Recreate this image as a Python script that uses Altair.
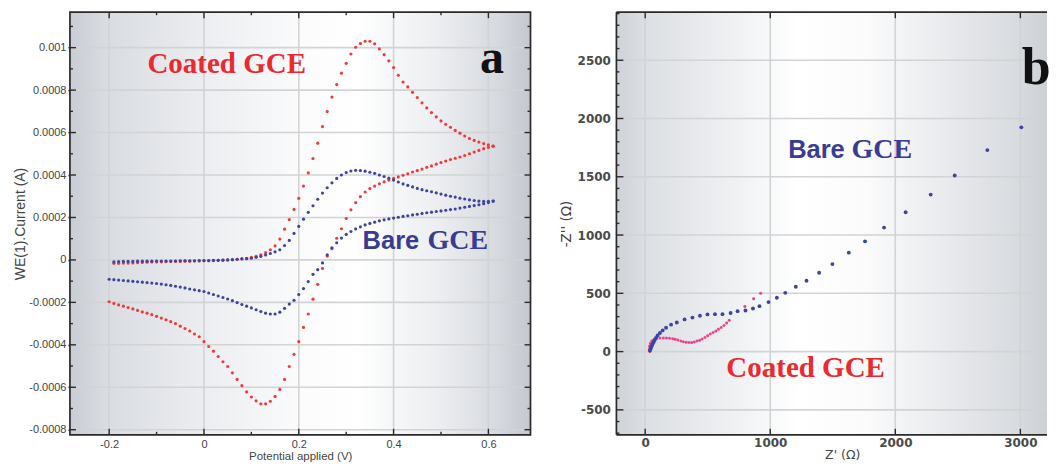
import altair as alt
import pandas as pd

# ---------------- Panel a : cyclic voltammetry ----------------
sweep_up_v = [-0.19, -0.18, -0.17, -0.16, -0.15, -0.14, -0.13, -0.12, -0.11, -0.10,
              -0.09, -0.08, -0.07, -0.06, -0.05, -0.04, -0.03, -0.02, -0.01, 0.00,
              0.01, 0.02, 0.03, 0.04, 0.05, 0.06, 0.07, 0.08, 0.09, 0.10,
              0.11, 0.12, 0.13, 0.14, 0.15, 0.16, 0.17, 0.18, 0.19, 0.20,
              0.21, 0.22, 0.23, 0.24, 0.25, 0.26, 0.27, 0.28, 0.29, 0.30,
              0.31, 0.32, 0.33, 0.34, 0.35, 0.36, 0.37, 0.38, 0.39, 0.40,
              0.41, 0.42, 0.43, 0.44, 0.45, 0.46, 0.47, 0.48, 0.49, 0.50,
              0.51, 0.52, 0.53, 0.54, 0.55, 0.56, 0.57, 0.58, 0.59, 0.60, 0.61]
sweep_down_v = [0.61, 0.60, 0.59, 0.58, 0.57, 0.56, 0.55, 0.54, 0.53, 0.52,
                0.51, 0.50, 0.49, 0.48, 0.47, 0.46, 0.45, 0.44, 0.43, 0.42,
                0.41, 0.40, 0.39, 0.38, 0.37, 0.36, 0.35, 0.34, 0.33, 0.32,
                0.31, 0.30, 0.29, 0.28, 0.27, 0.26, 0.25, 0.24, 0.23, 0.22,
                0.21, 0.20, 0.19, 0.18, 0.17, 0.16, 0.15, 0.14, 0.13, 0.12,
                0.11, 0.10, 0.09, 0.08, 0.07, 0.06, 0.05, 0.04, 0.03, 0.02,
                0.01, 0.00, -0.01, -0.02, -0.03, -0.04, -0.05, -0.06, -0.07, -0.08,
                -0.09, -0.10, -0.11, -0.12, -0.13, -0.14, -0.15, -0.16, -0.17, -0.18,
                -0.19, -0.20]

coated_up_i = [-0.000016, -0.000016, -0.000015, -0.000015, -0.000014, -0.000013, -0.000012, -0.000011, -0.00001, -0.00001,
               -0.000009, -0.000008, -0.000008, -0.000007, -0.000007, -0.000006, -0.000006, -0.000005, -0.000005, -0.000004,
               -0.000004, -0.000003, -0.000002, -0.000001, 0.0, 0.000001, 0.000003, 0.000005, 0.000008, 0.000012,
               0.000017, 0.000024, 0.000034, 0.000048, 0.000066, 0.000098, 0.000145, 0.00019, 0.000238, 0.00029,
               0.000348, 0.00041, 0.000478, 0.00055, 0.000628, 0.000699, 0.000767, 0.000826, 0.00088, 0.000926,
               0.00097, 0.001002, 0.00102, 0.00103, 0.00103, 0.001018, 0.000994, 0.000967, 0.000938, 0.000906,
               0.00087, 0.000838, 0.000815, 0.00079, 0.000765, 0.00074, 0.000716, 0.000694, 0.000674, 0.000655,
               0.000639, 0.000625, 0.00061, 0.000597, 0.000584, 0.000572, 0.000563, 0.000555, 0.000548, 0.000542, 0.000536]
coated_down_i = [0.000536, 0.00053, 0.000524, 0.000516, 0.000508, 0.0005, 0.000492, 0.000485, 0.000479, 0.000473,
                 0.000466, 0.000459, 0.000451, 0.000443, 0.000436, 0.000428, 0.000421, 0.000414, 0.000406, 0.000399,
                 0.000391, 0.000384, 0.000376, 0.000368, 0.000359, 0.000348, 0.000336, 0.00032, 0.000298, 0.00027,
                 0.000236, 0.000195, 0.000147, 0.000102, 0.000053, 0.000018, -0.00004, -0.000115, -0.000185, -0.000255,
                 -0.000318, -0.000385, -0.000445, -0.000502, -0.000563, -0.00061, -0.000643, -0.000666, -0.000678, -0.000678,
                 -0.000664, -0.000646, -0.000622, -0.000592, -0.000563, -0.000532, -0.000502, -0.00048, -0.000455, -0.00043,
                 -0.000408, -0.000385, -0.000362, -0.000349, -0.000335, -0.000323, -0.000312, -0.0003, -0.000291, -0.000282,
                 -0.000274, -0.000266, -0.000258, -0.000251, -0.000245, -0.000238, -0.000231, -0.000224, -0.000218, -0.000212,
                 -0.000205, -0.000197]
bare_up_i = [-0.000009, -0.000008, -0.000007, -0.000007, -0.000007, -0.000006, -0.000006, -0.000006, -0.000006, -0.000005,
             -0.000005, -0.000005, -0.000005, -0.000005, -0.000004, -0.000004, -0.000004, -0.000004, -0.000003, -0.000003,
             -0.000003, -0.000002, -0.000002, -0.000001, 0.0, 0.000001, 0.000003, 0.000005, 0.000006, 0.000008,
             0.000012, 0.000017, 0.000023, 0.00003, 0.000038, 0.000048, 0.000068, 0.000092, 0.000125, 0.000158,
             0.000192, 0.000224, 0.000255, 0.000286, 0.000315, 0.00034, 0.000363, 0.000384, 0.0004, 0.000412,
             0.000419, 0.000422, 0.000421, 0.000418, 0.000413, 0.000408, 0.0004, 0.000393, 0.000385, 0.000376,
             0.000367, 0.000358, 0.000351, 0.000344, 0.000337, 0.000331, 0.000326, 0.000321, 0.000316, 0.00031,
             0.000305, 0.0003, 0.000296, 0.000291, 0.000287, 0.000283, 0.00028, 0.000277, 0.000276, 0.000276, 0.000277]
bare_down_i = [0.000277, 0.00027, 0.000265, 0.00026, 0.000256, 0.000252, 0.000248, 0.000244, 0.00024, 0.000237,
               0.000234, 0.000231, 0.000228, 0.000225, 0.000222, 0.000219, 0.000215, 0.000212, 0.000208, 0.000205,
               0.000201, 0.000197, 0.000193, 0.000189, 0.000184, 0.000178, 0.000172, 0.000165, 0.000156, 0.000146,
               0.000134, 0.00012, 0.000103, 0.000081, 0.000057, 0.000024, -0.000014, -0.000046, -0.000068, -0.000102,
               -0.000135, -0.000163, -0.00019, -0.000208, -0.000228, -0.000246, -0.000255, -0.000255, -0.000251, -0.000243,
               -0.000235, -0.000226, -0.000218, -0.00021, -0.000201, -0.000192, -0.000184, -0.000177, -0.00017, -0.000163,
               -0.000156, -0.000149, -0.000145, -0.000141, -0.000137, -0.000132, -0.000128, -0.000124, -0.00012, -0.000117,
               -0.000114, -0.000111, -0.000109, -0.000107, -0.000105, -0.000103, -0.000101, -0.000099, -0.000097, -0.000095,
               -0.000093, -0.000091]

cv_x_ticks = [-0.2, 0, 0.2, 0.4, 0.6]
cv_x_minor = [-0.1, 0.1, 0.3, 0.5]
cv_y_ticks = [-0.0008, -0.0006, -0.0004, -0.0002, 0, 0.0002, 0.0004, 0.0006, 0.0008, 0.001]
cv_y_minor = [-0.0007, -0.0005, -0.0003, -0.0001, 0.0001, 0.0003, 0.0005, 0.0007, 0.0009, 0.0011]

# ---------------- Panel b : Nyquist plot ----------------
bare_zre = [38, 43, 48, 54, 59, 67, 75, 86, 99, 118, 140, 167, 207, 253, 315, 378, 438, 498, 558, 618,
            683, 739, 802, 862, 914, 986, 1053, 1120, 1204, 1290, 1391, 1497, 1628, 1758, 1910, 2083,
            2283, 2475, 2736, 3008, 3296]
bare_zim = [9, 23, 38, 52, 66, 81, 98, 118, 139, 160, 182, 205, 231, 250, 276, 292, 308, 319, 321, 321,
            331, 347, 353, 370, 390, 425, 462, 504, 556, 608, 677, 751, 849, 946, 1064, 1196,
            1347, 1511, 1729, 1924, 2193]
coated_zre = [38, 35, 35, 42, 52, 70, 92, 118, 145, 170, 195, 220, 240, 262, 285, 305, 328, 350, 372,
              393, 414, 435, 455, 478, 500, 521, 543, 565, 586, 608, 630, 651, 672, 797, 867, 923]
coated_zim = [0, 20, 45, 70, 90, 104, 112, 116, 116, 116, 115, 111, 106, 99, 91, 85, 80, 78, 79,
              83, 90, 98, 108, 121, 136, 150, 163, 177, 191, 206, 224, 245, 269, 386, 453, 500]

eis_x_ticks = [0, 1000, 2000, 3000]
eis_y_ticks = [-500, 0, 500, 1000, 1500, 2000, 2500]
eis_y_minor = [-700, -600, -400, -300, -200, -100, 100, 200, 300, 400, 600, 700, 800, 900,
               1100, 1200, 1300, 1400, 1600, 1700, 1800, 1900, 2100, 2200, 2300, 2400, 2600, 2700, 2800, 2900]

series_names = ["Coated GCE", "Bare GCE"]

# ---------------- styling ----------------
SANS = "Liberation Sans"
RED = "#f03a3a"
BLUE = "#3b459f"
PINK = "#e9438e"
TXT_RED = "#ea2a2e"
TXT_BLUE = "#383c92"
GRID = "#d2d3d5"
FRAME = "#2a2a2a"
H = 423
WL = 461
WR = 431

one = pd.DataFrame({"k": [0]})


def grad(stops):
    return alt.LinearGradient(gradient="linear", x1=0, x2=1, y1=0, y2=0,
                              stops=[alt.GradientStop(offset=o, color=c) for o, c in stops])


class Panel:
    def __init__(self, xs, ys, ax, ay, w):
        self.xs, self.ys, self.ax, self.ay, self.w = xs, ys, ax, ay, w

    def X(self, f):
        return alt.X(f, scale=self.xs, axis=self.ax)

    def Y(self, f):
        return alt.Y(f, scale=self.ys, axis=self.ay)

    def bg(self, stops):
        return alt.Chart(one).mark_rect(fill=grad(stops)).encode(
            x=alt.value(0), x2=alt.value(self.w), y=alt.value(0), y2=alt.value(H))

    def frame(self, open_right=False):
        if not open_right:
            return [alt.Chart(one).mark_rect(filled=False, stroke=FRAME, strokeWidth=1.7).encode(
                x=alt.value(0), x2=alt.value(self.w), y=alt.value(0), y2=alt.value(H))]
        return [
            alt.Chart(one).mark_rule(color=FRAME, strokeWidth=1.7).encode(
                x=alt.value(0), y=alt.value(0), y2=alt.value(H)),
            alt.Chart(one).mark_rule(color=FRAME, strokeWidth=1.7).encode(
                x=alt.value(0), x2=alt.value(self.w), y=alt.value(0)),
            alt.Chart(one).mark_rule(color=FRAME, strokeWidth=1.7).encode(
                x=alt.value(0), x2=alt.value(self.w), y=alt.value(H)),
        ]

    def vgrid(self, vals):
        return alt.Chart(pd.DataFrame({"g": vals})).mark_rule(color=GRID, strokeWidth=1.6).encode(
            x=self.X("g:Q"))

    def hgrid(self, vals):
        return alt.Chart(pd.DataFrame({"g": vals})).mark_rule(color=GRID, strokeWidth=1.6).encode(
            y=self.Y("g:Q"))

    def xticks(self, vals, ln):
        d = pd.DataFrame({"t": vals})
        bot = alt.Chart(d).mark_rule(color=FRAME, strokeWidth=1.4).encode(
            x=self.X("t:Q"), y=alt.value(H), y2=alt.value(H - ln))
        top = alt.Chart(d).mark_rule(color=FRAME, strokeWidth=1.4).encode(
            x=self.X("t:Q"), y=alt.value(0), y2=alt.value(ln))
        return [bot, top]

    def yticks(self, vals, ln, right=True):
        d = pd.DataFrame({"t": vals})
        out = [alt.Chart(d).mark_rule(color=FRAME, strokeWidth=1.4).encode(
            y=self.Y("t:Q"), x=alt.value(0), x2=alt.value(ln))]
        if right:
            out.append(alt.Chart(d).mark_rule(color=FRAME, strokeWidth=1.4).encode(
                y=self.Y("t:Q"), x=alt.value(self.w), x2=alt.value(self.w - ln)))
        return out

    def label(self, xv, yv, text, font, size, color, align="center", weight="bold"):
        return alt.Chart(pd.DataFrame({"x": [xv], "y": [yv], "t": [text]})).mark_text(
            font=font, fontSize=size, fontWeight=weight, color=color, align=align,
            baseline="alphabetic"
        ).encode(x=self.X("x:Q"), y=self.Y("y:Q"), text="t:N")


# ---------------- panel a ----------------
ax_xa = alt.Axis(values=cv_x_ticks, labelExpr="datum.value + ''", title="Potential applied (V)",
                 grid=False, ticks=False, domain=False, labelPadding=4, labelFont=SANS,
                 labelFontSize=11, labelColor="#444", titleFont=SANS, titleFontSize=11.5,
                 titleFontWeight="normal", titleColor="#444", titlePadding=1)
ax_ya = alt.Axis(values=cv_y_ticks, labelExpr="datum.value + ''", title="WE(1).Current (A)",
                 grid=False, ticks=True, tickSize=2, tickWidth=1.5, tickColor=FRAME, domain=False,
                 labelPadding=2, labelFont=SANS, labelFontSize=11, labelColor="#444",
                 titleFont=SANS, titleFontSize=14, titleFontWeight="normal", titleColor="#444",
                 titlePadding=1.5)
pa = Panel(alt.Scale(domain=[-0.2827, 0.6888], nice=False, zero=False),
           alt.Scale(domain=[-0.000824, 0.001167], nice=False, zero=False), ax_xa, ax_ya, WL)

cv = pd.DataFrame({
    "V": sweep_up_v + sweep_down_v + sweep_up_v + sweep_down_v,
    "I": coated_up_i + coated_down_i + bare_up_i + bare_down_i,
    "sample": [series_names[0]] * (len(sweep_up_v) + len(sweep_down_v))
              + [series_names[1]] * (len(sweep_up_v) + len(sweep_down_v)),
})

pts_a = alt.Chart(cv).mark_circle(size=10, opacity=1).encode(
    x=pa.X("V:Q"), y=pa.Y("I:Q"),
    color=alt.Color("sample:N", scale=alt.Scale(domain=series_names, range=[RED, BLUE]), legend=None),
)

layers_a = [pa.bg([(0, "#c9cdd4"), (0.08, "#d9dce1"), (0.3, "#eceef1"), (0.5, "#fbfbfc"),
                   (0.62, "#ffffff"), (0.8, "#eceef1"), (0.93, "#d6d9de"), (1, "#c4c8cf")]),
            pa.vgrid(cv_x_ticks), pa.hgrid(cv_y_ticks)]
layers_a += pa.xticks(cv_x_ticks, 6) + pa.xticks(cv_x_minor, 3)
layers_a += pa.yticks(cv_y_ticks, 6) + pa.yticks(cv_y_minor, 3)
layers_a += [pts_a,
             pa.label(0.048, 0.00088, "Coated GCE", "Liberation Serif", 29, TXT_RED),
             pa.label(0.4541, 0.0000504, "Bare", "Liberation Sans", 25.5, TXT_BLUE, align="right"),
             pa.label(0.4716, 0.0000504, "GCE", "Liberation Serif", 28, TXT_BLUE, align="left"),
             pa.label(0.6078, 0.00088, "a", "Liberation Serif", 48, "#111")]
layers_a += pa.frame()
panel_a = alt.layer(*layers_a).properties(width=WL, height=H)

# ---------------- panel b ----------------
ax_xb = alt.Axis(values=eis_x_ticks, labelExpr="datum.value + ''", title="Z' (\u03a9)",
                 grid=False, ticks=False, domain=False, labelPadding=3, labelFont="DejaVu Sans",
                 labelFontSize=12, labelFontWeight="bold", labelColor="#4a4a4a",
                 titleFont="DejaVu Sans", titleFontSize=12.5, titleFontWeight="normal",
                 titleColor="#444", titlePadding=0, titleX=226)
ax_yb = alt.Axis(values=eis_y_ticks, labelExpr="datum.value + ''", title="-Z'' (\u03a9)",
                 grid=False, ticks=False, domain=False, labelPadding=6, labelFont="DejaVu Sans",
                 labelFontSize=12, labelFontWeight="bold", labelColor="#4a4a4a",
                 titleFont="DejaVu Sans", titleFontSize=13.5, titleFontWeight="normal",
                 titleColor="#4a4044", titlePadding=4)
pb = Panel(alt.Scale(domain=[-230, 3213], nice=False, zero=False),
           alt.Scale(domain=[-714, 2912], nice=False, zero=False), ax_xb, ax_yb, WR)

eis = pd.DataFrame({
    "zre": coated_zre + bare_zre,
    "zim": coated_zim + bare_zim,
    "sample": [series_names[0]] * len(coated_zre) + [series_names[1]] * len(bare_zre),
})

pts_b = alt.Chart(eis).mark_circle(opacity=1, clip=True).encode(
    x=pb.X("zre:Q"), y=pb.Y("zim:Q"),
    color=alt.Color("sample:N", scale=alt.Scale(domain=series_names, range=[PINK, BLUE]), legend=None),
    size=alt.Size("sample:N", scale=alt.Scale(domain=series_names, range=[9, 15]), legend=None),
)

layers_b = [pb.bg([(0, "#cfd2d7"), (0.07, "#dcdfe3"), (0.3, "#f2f3f5"), (0.42, "#ffffff"),
                   (0.58, "#fbfbfc"), (0.78, "#e7e9ec"), (0.93, "#d8dbdf"), (1, "#cdd0d5")]),
            pb.vgrid(eis_x_ticks), pb.hgrid(eis_y_ticks)]
layers_b += pb.xticks(eis_x_ticks, 6)
layers_b += pb.yticks(eis_y_ticks, 7, right=False) + pb.yticks(eis_y_minor, 3, right=False)
layers_b += [pts_b,
             pb.label(1596, 1663, "Bare", "Liberation Sans", 25.5, TXT_BLUE, align="right"),
             pb.label(1650, 1663, "GCE", "Liberation Serif", 28, TXT_BLUE, align="left"),
             pb.label(1283, -217, "Coated GCE", "Liberation Serif", 29, TXT_RED),
             pb.label(3127, 2297, "b", "Liberation Serif", 52, "#111")]
layers_b += pb.frame(open_right=True)
panel_b = alt.layer(*layers_b).properties(width=WR, height=H)

chart = alt.hconcat(panel_a, panel_b, spacing=27).resolve_scale(
    color="independent", size="independent"
).configure(
    padding={"left": 5, "top": 3, "right": 0, "bottom": 0}, background="white"
).configure_view(stroke=None)

chart.save("out.html", embed_options={"renderer": "svg", "actions": False})
